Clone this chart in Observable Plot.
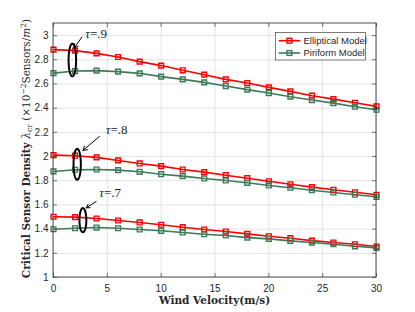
<!DOCTYPE html>
<html><head><meta charset="utf-8">
<script src="https://cdn.jsdelivr.net/npm/d3@7"></script>
<script src="https://cdn.jsdelivr.net/npm/@observablehq/plot@0.6"></script>
<style>body{margin:0;background:#fff}#chart{width:415px;height:312px}</style>
</head><body><div id="chart"></div>
<script>
const velocity = [0,2,4,6,8,10,12,14,16,18,20,22,24,26,28,30];
const ellip9 = [2.884,2.876,2.853,2.823,2.785,2.752,2.713,2.677,2.638,2.608,2.572,2.539,2.503,2.475,2.445,2.415];
const pir9   = [2.690,2.707,2.710,2.702,2.688,2.661,2.638,2.613,2.583,2.553,2.525,2.495,2.467,2.442,2.412,2.387];
const ellip8 = [2.012,2.007,1.993,1.968,1.943,1.921,1.893,1.871,1.846,1.821,1.796,1.771,1.747,1.725,1.705,1.684];
const pir8   = [1.877,1.891,1.893,1.888,1.874,1.854,1.838,1.819,1.802,1.783,1.761,1.742,1.722,1.703,1.684,1.667];
const ellip7 = [1.502,1.499,1.488,1.471,1.455,1.436,1.416,1.397,1.380,1.361,1.341,1.325,1.305,1.289,1.275,1.256];
const pir7   = [1.399,1.407,1.413,1.407,1.397,1.386,1.372,1.358,1.347,1.330,1.319,1.303,1.289,1.275,1.258,1.245];
const xTicks = [0,5,10,15,20,25,30];
const yTicks = [1,1.2,1.4,1.6,1.8,2,2.2,2.4,2.6,2.8,3];
const yTickLabels = ["1","1.2","1.4","1.6","1.8","2","2.2","2.4","2.6","2.8","3"];
const models = ["Elliptical Model","Piriform Model"];
const colors = ["#ff0000","#3c7a58"];
const tauValues = [".9",".8",".7"];
// annotation positions (data units)
const ellCx = [1.75,2.20,2.73], ellCy = [2.798,1.936,1.474], ellRx = [0.35,0.34,0.32], ellRy = [0.135,0.128,0.10];
const arrX1 = [2.64,4.27,3.96], arrY1 = [2.988,2.166,1.628], arrX2 = [1.92,2.73,3.04], arrY2 = [2.897,2.050,1.576];
const txtX = [3.0,4.9,4.3], txtY = [3.011,2.222,1.695];

const all = [[ellip9,0],[pir9,1],[ellip8,0],[pir8,1],[ellip7,0],[pir7,1]];
const rows = [];
all.forEach(([vals,m],si)=>vals.forEach((v,i)=>rows.push({v:velocity[i], d:v, m, s:si})));
const ell = [];
for (let k=0;k<3;k++) for (let t=0;t<=64;t++){const a=t/64*2*Math.PI; ell.push({k, x:ellCx[k]+ellRx[k]*Math.cos(a), y:ellCy[k]+ellRy[k]*Math.sin(a)});}
const ann = tauValues.map((t,k)=>({t,k}));
const ink="#262626";
const tl = 4/10.77, tlY = 4/120.8;
const plot = Plot.plot({
  width:415, height:312, marginLeft:53, marginRight:39, marginTop:23, marginBottom:35,
  x:{domain:[0,30]}, y:{domain:[1,3.1]},
  style:{fontFamily:"Liberation Sans, Arial, sans-serif", fontSize:"10px", color:ink, background:"white", overflow:"visible"},
  marks:[
    Plot.gridX(xTicks,{stroke:"#e3e3e3", strokeOpacity:1}),
    Plot.gridY(yTicks,{stroke:"#e3e3e3", strokeOpacity:1}),
    Plot.axisX(xTicks,{tickSize:0, tickPadding:7, label:null, fill:ink}),
    Plot.axisY(yTicks,{tickSize:0, tickPadding:5, label:null, fill:ink, tickFormat:(d,i)=>yTickLabels[i]}),
    Plot.ruleY(yTicks,{x1:0, x2:tl, stroke:ink, strokeWidth:0.6}),
    Plot.ruleY(yTicks,{x1:30-tl, x2:30, stroke:ink, strokeWidth:0.6}),
    Plot.ruleX(xTicks,{y1:1, y2:1+tlY, stroke:ink, strokeWidth:0.6}),
    Plot.ruleX(xTicks,{y1:3.1-tlY, y2:3.1, stroke:ink, strokeWidth:0.6}),
    Plot.line(rows,{x:"v", y:"d", z:"s", stroke:d=>colors[d.m], strokeWidth:1.6}),
    Plot.dot(rows,{x:"v", y:"d", symbol:"square", r:2.7, stroke:d=>colors[d.m], fill:"none", strokeWidth:1.4}),
    Plot.line(ell,{x:"x", y:"y", z:"k", stroke:"black", strokeWidth:2}),
    Plot.arrow(ann,{x1:d=>arrX1[d.k], y1:d=>arrY1[d.k], x2:d=>arrX2[d.k], y2:d=>arrY2[d.k], stroke:"black", strokeWidth:1, headLength:7})
  ]
});
document.getElementById("chart").appendChild(plot);
const svg = d3.select(plot);
// tau labels, placed through the plot scales
const sx = plot.scale("x"), sy = plot.scale("y");
ann.forEach(d=>{
  const t = svg.append("text").attr("x",sx.apply(txtX[d.k])).attr("y",sy.apply(txtY[d.k])).attr("dy","0.35em")
    .attr("text-anchor","start").attr("font-family","Liberation Serif, serif").attr("font-size",13).attr("fill",ink);
  t.append("tspan").attr("font-style","italic").text("\u03c4");
  t.append("tspan").text("="+d.t);
});
// frame on top
svg.append("rect").attr("x",53).attr("y",23).attr("width",415-53-39).attr("height",312-23-35)
  .attr("fill","none").attr("stroke",ink).attr("stroke-width",0.8);
// x label
svg.append("text").attr("x",214.5).attr("y",303.5).attr("text-anchor","middle")
  .attr("font-family","DejaVu Serif, serif").attr("font-weight","bold").attr("font-size",10.5).attr("fill",ink)
  .text("Wind Velocity(m/s)");
// y label
const yl = svg.append("text").attr("transform","translate(30,148.5) rotate(-90)").attr("text-anchor","middle")
  .attr("font-family","DejaVu Serif, serif").attr("font-size",10.5).attr("fill",ink);
yl.append("tspan").attr("font-weight","bold").text("Critical Sensor Density ");
yl.append("tspan").attr("font-style","italic").text("\u03bb");
yl.append("tspan").attr("font-size",7.5).attr("dy",2).text("cr");
yl.append("tspan").attr("dy",-2).text(" (\u00d710");
yl.append("tspan").attr("font-size",7.5).attr("dy",-4).text("\u22122");
yl.append("tspan").attr("dy",4).text("Sensors/");
yl.append("tspan").attr("font-style","italic").text("m");
yl.append("tspan").attr("font-size",7.5).attr("dy",-4).text("2");
yl.append("tspan").attr("dy",4).text(")");
// legend
const lg = svg.append("g");
lg.append("rect").attr("x",275.5).attr("y",32.5).attr("width",90).attr("height",27.5).attr("fill","white").attr("stroke",ink).attr("stroke-width",0.6);
models.forEach((m,i)=>{
  const y = 40.7 + i*12.3;
  lg.append("line").attr("x1",278.7).attr("x2",300.3).attr("y1",y).attr("y2",y).attr("stroke",colors[i]).attr("stroke-width",1.6);
  lg.append("rect").attr("x",287).attr("y",y-2.4).attr("width",4.8).attr("height",4.8).attr("fill","none").attr("stroke",colors[i]).attr("stroke-width",1.4);
  lg.append("text").attr("x",303.5).attr("y",y).attr("dy","0.35em").attr("text-anchor","start").attr("font-family","Liberation Sans, Arial, sans-serif").attr("font-size",9.5).attr("fill",ink).text(m);
});
</script></body></html>
